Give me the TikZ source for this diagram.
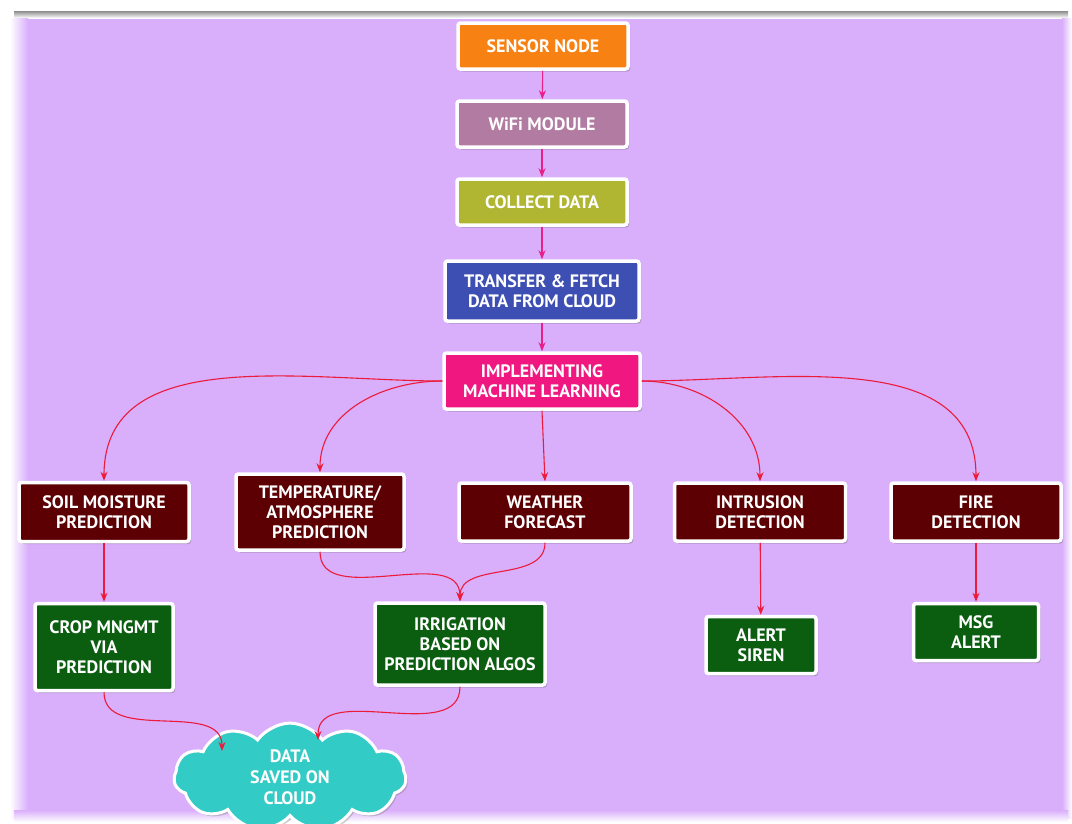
\documentclass[tikz,border=0pt]{standalone}
\usepackage{fontspec}
\setmainfont{PT Sans}
\usetikzlibrary{shapes.symbols,arrows.meta,shadows}
\definecolor{bgpurple}{HTML}{D9AEFB}
\definecolor{cOrange}{HTML}{F78112}
\definecolor{cMauve}{HTML}{B27BA1}
\definecolor{cOlive}{HTML}{B0B532}
\definecolor{cBlue}{HTML}{3D4FB3}
\definecolor{cPink}{HTML}{F01880}
\definecolor{cMaroon}{HTML}{5C0003}
\definecolor{cGreen}{HTML}{0B5E10}
\definecolor{cCyan}{HTML}{33CBC5}
\definecolor{aMagenta}{HTML}{E8208A}
\definecolor{aRed}{HTML}{EC1B3B}
\tikzset{
  box/.style={draw=white, line width=3.5pt, rounded corners=2.5pt, inner sep=1pt,
    text=white, align=center, font=\fontsize{18}{20}\selectfont\bfseries,
    drop shadow={shadow xshift=2pt, shadow yshift=-2.5pt, opacity=0.35, fill=black!60}},
  topflow/.style={draw=aMagenta, line width=1.1pt, -{Stealth[length=9pt,width=7pt]}},
  lowflow/.style={draw=aRed, line width=1.1pt, -{Stealth[length=9pt,width=7pt]}},
}
\begin{document}
\begin{tikzpicture}[x=1pt,y=-1pt]
\useasboundingbox (0,0) rectangle (1072,823);
% page backdrop
\fill[white] (0,0) rectangle (1072,823);
\fill[bgpurple] (14,18) rectangle (1068,818);
\shade[top color=black!45, bottom color=white] (14,11) rectangle (1068,18);
\shade[left color=white, right color=bgpurple] (10,18) rectangle (28,818);
\shade[left color=bgpurple, right color=white] (1062,18) rectangle (1072,818);
\shade[top color=bgpurple, bottom color=white] (14,810) rectangle (1068,822);

% main pipeline
\node[box, fill=cOrange, minimum width=170, minimum height=46] (sensor) at (543,46) {SENSOR NODE};
\node[box, fill=cMauve, minimum width=170, minimum height=46] (wifi) at (542,124) {WiFi MODULE};
\node[box, fill=cOlive, minimum width=170, minimum height=46] (collect) at (542,202) {COLLECT DATA};
\node[box, fill=cBlue, minimum width=194, minimum height=60] (transfer) at (542,291) {TRANSFER \& FETCH\\DATA FROM CLOUD};
\node[box, fill=cPink, minimum width=196, minimum height=56] (ml) at (542,381) {IMPLEMENTING\\MACHINE LEARNING};

% prediction / detection tasks
\node[box, fill=cMaroon, minimum width=170, minimum height=59] (soil) at (104,512) {SOIL MOISTURE\\PREDICTION};
\node[box, fill=cMaroon, minimum width=168, minimum height=76] (temp) at (320,512) {TEMPERATURE/\\ATMOSPHERE\\PREDICTION};
\node[box, fill=cMaroon, minimum width=172, minimum height=58] (weather) at (545,512) {WEATHER\\FORECAST};
\node[box, fill=cMaroon, minimum width=171, minimum height=58] (intrusion) at (760,512) {INTRUSION\\DETECTION};
\node[box, fill=cMaroon, minimum width=170, minimum height=58] (fire) at (976,512) {FIRE\\DETECTION};

% actions
\node[box, fill=cGreen, minimum width=138, minimum height=87] (crop) at (104,647) {CROP MNGMT\\VIA\\PREDICTION};
\node[box, fill=cGreen, minimum width=170, minimum height=82] (irrig) at (460,644) {IRRIGATION\\BASED ON\\PREDICTION ALGOS};
\node[box, fill=cGreen, minimum width=110, minimum height=57] (siren) at (761,645) {ALERT\\SIREN};
\node[box, fill=cGreen, minimum width=125, minimum height=57] (msg) at (976,632) {MSG\\ALERT};

% storage
\node[cloud, cloud puffs=11, cloud puff arc=110, aspect=2.9, draw=white, line width=3pt,
  fill=cCyan, text=white, align=center, inner sep=0pt,
  font=\fontsize{18}{21}\selectfont\bfseries,
  minimum width=232, minimum height=84,
  drop shadow={shadow xshift=2pt, shadow yshift=-2.5pt, opacity=0.3, fill=black!60}]
  (cloud) at (290,777) {DATA\\SAVED ON\\CLOUD};
\coordinate (cin1) at (222,751);
\coordinate (cin2) at (318,740);

% connectors
\draw[topflow] (sensor) -- (wifi);
\draw[topflow] (wifi) -- (collect);
\draw[topflow] (collect) -- (transfer);
\draw[topflow] (transfer) -- (ml);

\draw[lowflow] (ml.west) to[out=180,in=90] (soil.north);
\draw[lowflow] (ml.west) to[out=180,in=90] (temp.north);
\draw[lowflow] (ml.south) -- (weather.north);
\draw[lowflow] (ml.east) to[out=0,in=90] (intrusion.north);
\draw[lowflow] (ml.east) to[out=0,in=90] (fire.north);

\draw[lowflow] (soil) -- (crop);
\draw[lowflow] (temp.south) to[out=-90,in=90] (irrig.north);
\draw[lowflow] (weather.south) to[out=-90,in=90] (irrig.north);
\draw[lowflow] (intrusion) -- (siren);
\draw[lowflow] (fire) -- (msg);

\draw[lowflow] (crop.south) to[out=-90,in=90] (cin1);
\draw[lowflow] (irrig.south) to[out=-90,in=90] (cin2);
\end{tikzpicture}
\end{document}
